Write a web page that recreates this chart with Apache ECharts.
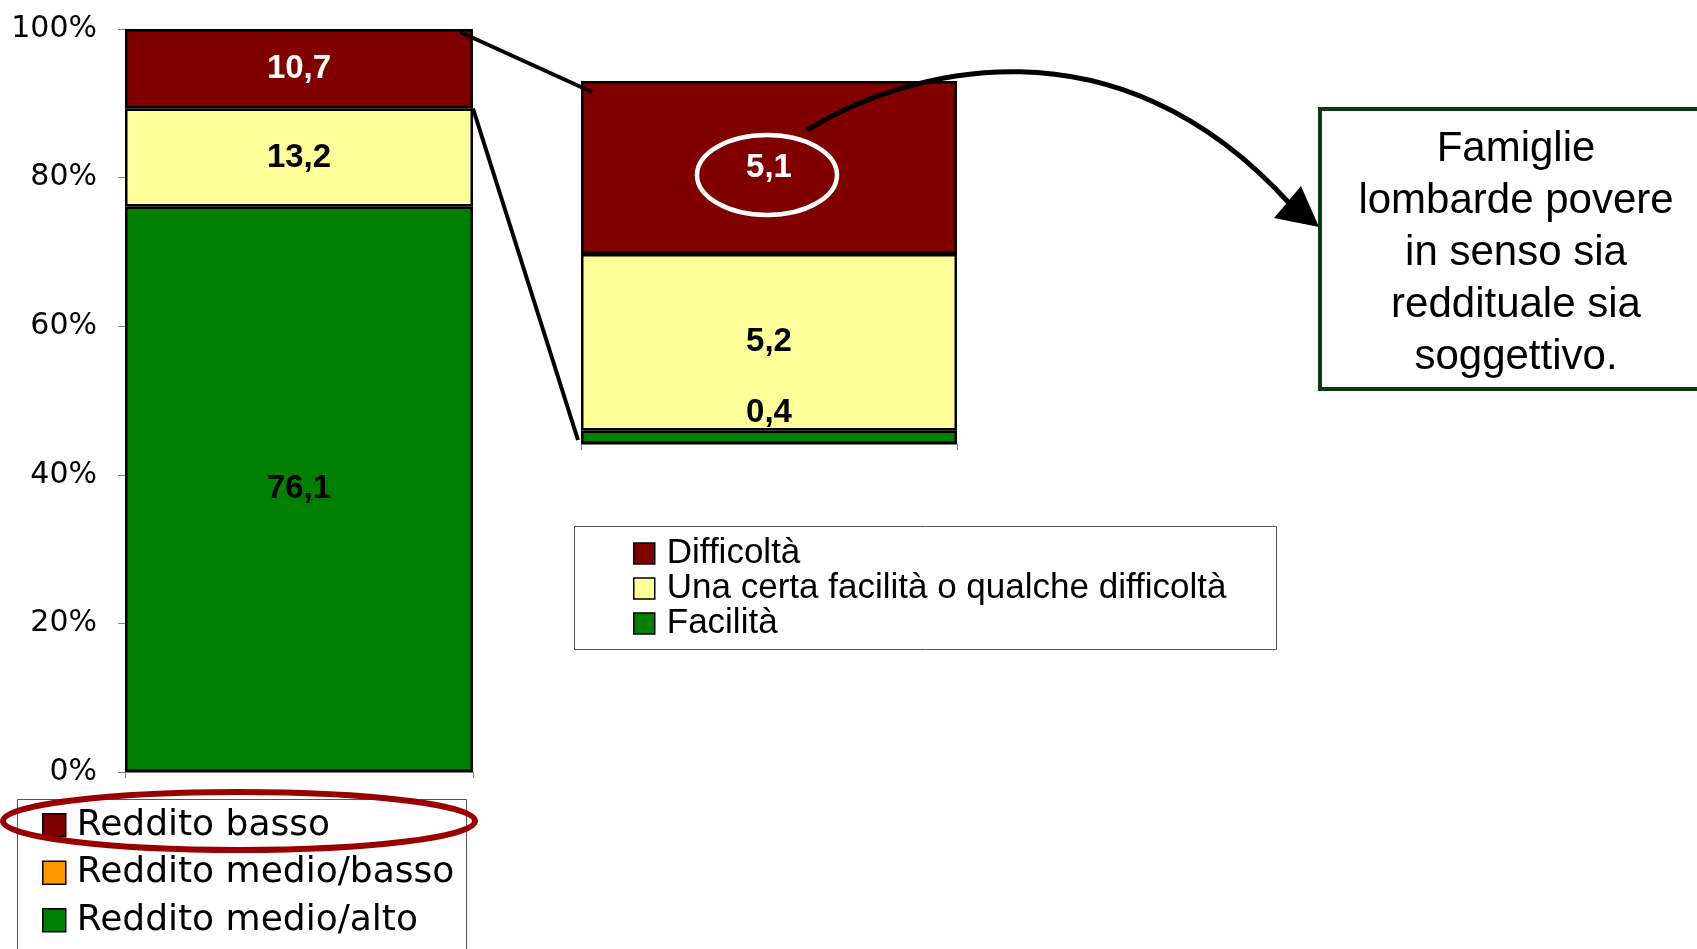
<!DOCTYPE html>
<html>
<head>
<meta charset="utf-8">
<title>Famiglie lombarde: reddito e difficoltà</title>
<script src="https://cdn.jsdelivr.net/npm/echarts@6/dist/echarts.min.js"></script>
<style>
  html, body { margin: 0; padding: 0; background: #fff; }
  #chart { width: 1697px; height: 949px; }
</style>
</head>
<body>
<div id="chart"></div>
<script>
// composizione per reddito (%)
const redditoNames = ['Reddito basso', 'Reddito medio/basso', 'Reddito medio/alto']
const redditoValues = [10.7, 13.2, 76.1]
// reddito basso scomposto per capacità di arrivare a fine mese
const difficoltaNames = ['Difficoltà', 'Una certa facilità o qualche difficoltà', 'Facilità']
const difficoltaValues = [5.1, 5.2, 0.4]
const yTicks = [0, 20, 40, 60, 80, 100]
const boxLines = ['Famiglie', 'lombarde povere', 'in senso sia', 'reddituale sia', 'soggettivo.']

const legendColors = ['#800000', '#FF9900', '#008000']
const barColors = ['#800000', '#FFFF99', '#008000']
const G1 = { left: 125, top: 29, width: 348, height: 743 }
const G2 = { left: 581, top: 81, width: 376, height: 363 }

const chart = echarts.init(document.getElementById('chart'))

const labelStyle = {
  show: true,
  position: 'inside',
  fontFamily: 'Liberation Sans',
  fontWeight: 'bold',
  fontSize: 33,
  formatter: p => p.value.toFixed(1).replace('.', ',')
}

let series = []
for (let i = redditoNames.length - 1; i >= 0; i--) {
  series.push({
    name: redditoNames[i],
    type: 'bar',
    stack: 'reddito',
    xAxisIndex: 0,
    yAxisIndex: 0,
    barWidth: '100%',
    itemStyle: { color: legendColors[i], borderColor: '#000', borderWidth: 2.5 },
    label: Object.assign({}, labelStyle, { color: i === 0 ? '#fff' : '#000' }),
    data: [{ value: redditoValues[i], itemStyle: { color: barColors[i] } }]
  })
}
for (let i = difficoltaNames.length - 1; i >= 0; i--) {
  let item = { value: difficoltaValues[i] }
  if (difficoltaValues[i] < 1) item.label = { position: 'top', distance: 1 }
  series.push({
    name: difficoltaNames[i],
    type: 'bar',
    stack: 'difficolta',
    xAxisIndex: 1,
    yAxisIndex: 1,
    barWidth: '100%',
    itemStyle: { color: barColors[i], borderColor: '#000', borderWidth: 2.5 },
    label: Object.assign({}, labelStyle, { color: i === 0 ? '#fff' : '#000' }),
    data: [item]
  })
}

const rightMax = difficoltaValues.reduce((a, b) => a + b, 0)

chart.setOption({
  animation: false,
  backgroundColor: '#fff',
  grid: [
    { left: G1.left, top: G1.top, width: G1.width, height: G1.height },
    { left: G2.left, top: G2.top, width: G2.width, height: G2.height }
  ],
  xAxis: [
    {
      type: 'category', gridIndex: 0, data: [''],
      axisLine: { lineStyle: { color: '#808080', width: 1 } },
      axisTick: { show: true, length: 6, lineStyle: { color: '#808080' } },
      axisLabel: { show: false }
    },
    {
      type: 'category', gridIndex: 1, data: [''],
      axisLine: { lineStyle: { color: '#808080', width: 1 } },
      axisTick: { show: true, length: 6, lineStyle: { color: '#808080' } },
      axisLabel: { show: false }
    }
  ],
  yAxis: [
    {
      type: 'value', gridIndex: 0,
      min: yTicks[0], max: yTicks[yTicks.length - 1], interval: yTicks[1] - yTicks[0],
      axisLine: { show: true, lineStyle: { color: '#808080' } },
      axisTick: { show: true, length: 7, lineStyle: { color: '#808080' } },
      axisLabel: { formatter: '{value}%', fontFamily: 'DejaVu Sans', fontSize: 30, color: '#000', margin: 28 },
      splitLine: { show: false }
    },
    {
      type: 'value', gridIndex: 1, min: 0, max: rightMax,
      axisLine: { show: true, lineStyle: { color: '#808080' } },
      axisTick: { show: false },
      axisLabel: { show: false },
      splitLine: { show: false }
    }
  ],
  legend: [
    {
      data: redditoNames,
      orient: 'vertical',
      left: 37,
      top: 800,
      padding: 5,
      icon: 'rect',
      itemWidth: 23,
      itemHeight: 23,
      itemGap: 7,
      selectedMode: false,
      itemStyle: { borderWidth: 1.5 },
      textStyle: { fontFamily: 'DejaVu Sans', fontSize: 36, color: '#000', lineHeight: 40.5, padding: [0, 0, 0, 6] }
    },
    {
      data: difficoltaNames,
      orient: 'vertical',
      left: 628,
      top: 531,
      padding: 5,
      icon: 'rect',
      itemWidth: 21,
      itemHeight: 21,
      itemGap: 0,
      selectedMode: false,
      itemStyle: { borderWidth: 1.5 },
      textStyle: { fontFamily: 'Liberation Sans', fontSize: 35, color: '#000', lineHeight: 34, padding: [0, 0, 0, 7] }
    }
  ],
  graphic: [
    // cornici delle legende
    { type: 'rect', z: 0, shape: { x: 17.5, y: 799.5, width: 449, height: 200 },
      style: { fill: '#fff', stroke: '#555', lineWidth: 1 } },
    { type: 'rect', z: 0, shape: { x: 574.5, y: 526.5, width: 702, height: 123 },
      style: { fill: '#fff', stroke: '#555', lineWidth: 1 } },
    // linee di raccordo tra le due barre
    { type: 'line', z: 50, shape: { x1: G1.left + G1.width - 13, y1: G1.top + 3, x2: G2.left + 11, y2: G2.top + 11 },
      style: { stroke: '#000', lineWidth: 4 } },
    { type: 'line', z: 50, shape: { x1: G1.left + G1.width, y1: G1.top + G1.height * redditoValues[0] / 100, x2: G2.left - 3, y2: G2.top + G2.height - 4 },
      style: { stroke: '#000', lineWidth: 4 } },
    // evidenziazioni
    { type: 'ellipse', z: 100, shape: { cx: 767, cy: 175, rx: 70, ry: 40 },
      style: { fill: null, stroke: '#fff', lineWidth: 4.5 } },
    { type: 'ellipse', z: 100, shape: { cx: 239, cy: 821, rx: 236, ry: 29 },
      style: { fill: null, stroke: '#990000', lineWidth: 6 } },
    // freccia curva
    { type: 'bezierCurve', z: 100,
      shape: { x1: 807, y1: 130, x2: 1290, y2: 204, cpx1: 905, cpy1: 70, cpx2: 1115, cpy2: 10 },
      style: { fill: null, stroke: '#000', lineWidth: 5 } },
    { type: 'polygon', z: 100, shape: { points: [[1319, 227], [1301, 186], [1274, 218]] },
      style: { fill: '#000' } },
    // riquadro di commento
    { type: 'rect', z: 90, shape: { x: 1320, y: 109, width: 420, height: 280 },
      style: { fill: '#fff', stroke: '#0b3b0b', lineWidth: 4 } },
    { type: 'text', z: 91,
      style: {
        text: boxLines.join('\n'), x: 1516, y: 123,
        textAlign: 'center', textVerticalAlign: 'top', align: 'center', verticalAlign: 'top',
        fontFamily: 'Liberation Sans', fontSize: 42, lineHeight: 52, fill: '#000'
      } }
  ],
  series: series
})
</script>
</body>
</html>
